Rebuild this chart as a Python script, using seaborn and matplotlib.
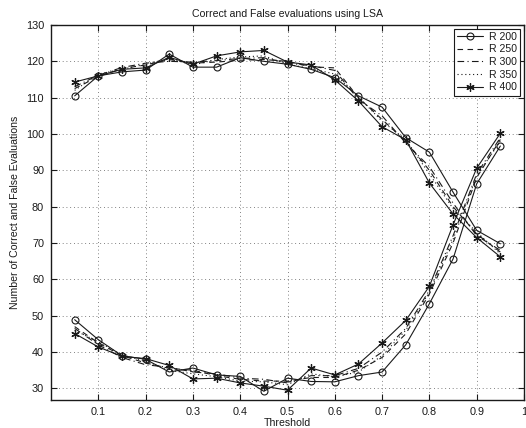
import matplotlib
matplotlib.use("Agg")
import matplotlib.pyplot as plt
import seaborn as sns
import numpy as np

sns.set_theme(style="white")
plt.rcParams['font.family'] = ['Liberation Sans', 'DejaVu Sans']
plt.rcParams['text.color'] = 'k'
plt.rcParams['axes.labelcolor'] = 'k'

thresholds = [0.05, 0.10, 0.15, 0.20, 0.25, 0.30, 0.35, 0.40, 0.45, 0.50,
              0.55, 0.60, 0.65, 0.70, 0.75, 0.80, 0.85, 0.90, 0.95]

# Correct evaluations per rank
correct_r200 = [110.5, 116.0, 117.1, 117.6, 122.0, 118.4, 118.4, 121.0, 120.0, 119.2,
                117.8, 115.5, 110.5, 107.4, 99.0, 95.0, 84.0, 73.5, 69.8]
correct_r250 = [112.5, 115.8, 118.0, 119.0, 120.5, 119.5, 119.8, 120.3, 120.5, 120.0,
                118.5, 118.2, 110.0, 104.0, 98.0, 90.0, 80.0, 72.5, 67.5]
correct_r300 = [113.0, 116.2, 118.3, 119.5, 120.0, 119.8, 120.2, 120.8, 121.0, 119.5,
                118.8, 117.5, 109.5, 105.0, 97.5, 91.0, 81.0, 72.0, 68.0]
correct_r350 = [112.0, 116.5, 117.8, 119.2, 120.8, 119.0, 120.5, 121.2, 121.5, 119.2,
                118.0, 116.5, 110.2, 103.5, 98.5, 89.0, 79.5, 73.0, 67.0]
correct_r400 = [114.3, 116.0, 117.8, 118.2, 121.1, 119.2, 121.5, 122.6, 123.0, 119.8,
                119.0, 114.9, 109.1, 102.0, 98.4, 86.5, 78.0, 71.5, 66.2]

# False evaluations per rank
false_r200 = [48.9, 43.4, 39.0, 38.0, 34.5, 35.6, 33.7, 33.3, 29.2, 32.8,
              31.9, 31.8, 33.5, 34.5, 42.0, 53.3, 65.6, 86.3, 96.7]
false_r250 = [47.0, 42.5, 39.0, 37.0, 35.5, 35.0, 33.5, 32.5, 32.0, 32.0,
              33.0, 33.0, 35.0, 38.5, 45.0, 56.0, 70.0, 88.0, 98.5]
false_r300 = [46.5, 42.0, 38.5, 36.5, 35.8, 34.5, 34.0, 32.8, 32.5, 31.5,
              33.5, 33.5, 35.5, 40.0, 46.5, 57.0, 72.0, 89.0, 99.0]
false_r350 = [46.0, 42.8, 39.2, 37.5, 35.0, 34.0, 33.2, 32.0, 31.8, 31.0,
              34.0, 33.2, 34.5, 39.0, 46.0, 56.5, 71.0, 88.5, 98.0]
false_r400 = [45.1, 41.4, 38.8, 38.2, 36.3, 32.6, 32.8, 31.5, 30.6, 29.5,
              35.6, 33.7, 36.7, 42.5, 48.7, 58.1, 75.0, 90.6, 100.2]

labels = ["R 200", "R 250", "R 300", "R 350", "R 400"]
correct = [correct_r200, correct_r250, correct_r300, correct_r350, correct_r400]
false = [false_r200, false_r250, false_r300, false_r350, false_r400]

styles = [
    dict(linestyle='-', marker='o', markersize=5, markerfacecolor='none',
         markeredgecolor='k', markeredgewidth=0.8, linewidth=0.8),
    dict(linestyle=(0, (5, 4)), linewidth=0.8),
    dict(linestyle=(0, (6, 3, 1, 3)), linewidth=0.8),
    dict(linestyle=(0, (1, 2.5)), linewidth=0.8),
    dict(linestyle='-', marker=(6, 2, 0), markersize=6, markerfacecolor='k',
         markeredgecolor='k', markeredgewidth=0.9, linewidth=0.8),
]

fig = plt.figure(figsize=(5.26, 4.28), dpi=100)
ax = fig.add_axes([51 / 526, 28 / 428, 473 / 526, 375 / 428])

for lab, c, f, st in zip(labels, correct, false, styles):
    sns.lineplot(x=thresholds, y=c, ax=ax, color='k', label=lab, **st)
    sns.lineplot(x=thresholds, y=f, ax=ax, color='k', label='_nolegend_', **st)

ax.set_xlim(0, 1)
ax.set_ylim(26.8, 130)
ax.set_xticks([0.1, 0.2, 0.3, 0.4, 0.5, 0.6, 0.7, 0.8, 0.9, 1.0])
ax.set_xticklabels(['0.1', '0.2', '0.3', '0.4', '0.5', '0.6', '0.7', '0.8', '0.9', '1'])
ax.set_yticks(np.arange(30, 131, 10))

ax.grid(True, color='0.35', linestyle=(0, (1, 3.5)), linewidth=0.6)
ax.tick_params(direction='in', bottom=True, left=True, top=True, right=True,
               length=4, width=0.8, labelsize=7.8, colors='k',
               labelcolor='k', pad=5)
for sp in ax.spines.values():
    sp.set_color('k')
    sp.set_linewidth(1.0)

ax.set_title("Correct and False evaluations using LSA", fontsize=7.6, pad=6, color='k')
ax.set_xlabel("Threshold", fontsize=7.6, labelpad=1)
ax.set_ylabel("Number of Correct and False Evaluations", fontsize=7.6, labelpad=4)

leg = ax.legend(loc='upper right', fontsize=7.6, frameon=True, fancybox=False,
                edgecolor='k', framealpha=1, borderaxespad=0.35, handlelength=2.4,
                labelspacing=0.25, borderpad=0.3, handletextpad=0.6)
leg.get_frame().set_linewidth(0.8)

fig.savefig("out.png", dpi=100)
